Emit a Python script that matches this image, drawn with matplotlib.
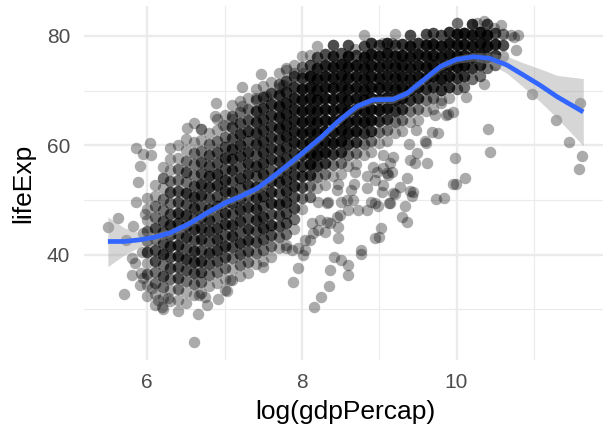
import numpy as np
import matplotlib
matplotlib.use("Agg")
import matplotlib.pyplot as plt

plt.rcParams["font.family"] = ["Liberation Sans", "DejaVu Sans"]

# dense part of the cloud, one column per 0.1 of log(gdpPercap):
# cloud_y0 is the lowest lifeExp of the column, each digit is how many
# points sit in the next 2-year cell going up
cloud_x = [6.0, 6.1, 6.2, 6.3, 6.4, 6.5, 6.6, 6.7, 6.8, 6.9,
           7.0, 7.1, 7.2, 7.3, 7.4, 7.5, 7.6, 7.7, 7.8, 7.9,
           8.0, 8.1, 8.2, 8.3, 8.4, 8.5, 8.6, 8.7, 8.8, 8.9,
           9.0, 9.1, 9.2, 9.3, 9.4, 9.5, 9.6, 9.7, 9.8, 9.9,
           10.0, 10.1, 10.2, 10.3, 10.4, 10.5, 10.6]
cloud_y0 = [32.4, 30.8, 30.1, 31.5, 29.7, 31.2, 32.6, 32.9, 34.3, 34.8,
            33.6, 35.4, 36.1, 36.7, 38.3, 38.8, 39.5, 41.2, 41.7, 44.6,
            48.3, 50.6, 52.2, 52.7, 54.4, 54.8, 56.3, 56.6, 58.2, 58.7,
            60.4, 60.8, 62.3, 62.6, 64.2, 64.7, 66.3, 66.6, 68.2, 68.7,
            70.3, 70.6, 72.2, 72.7, 74.2, 74.6, 76.3]
cloud_n = ["1121322111", "112233232211", "11232433322121",
           "112334343232111", "112334434433221", "1123434443423211",
           "123443434432221", "1234344434433211", "123434443443321",
           "1234443434433211", "11234344344343211", "11234434434443321",
           "12343444343444321", "12344343444434321", "12334444343444421",
           "12344343444444431", "12343444344444431", "12334344444555421",
           "12334444445555431", "1233444455555431", "123445566666421",
           "12466666666631", "12466666666531", "1246666666653",
           "1246666666653", "124666666663", "124666666663",
           "12466666663", "124666666631", "12466666664",
           "1246666663", "1246666664", "1246666631", "124666664",
           "124666663", "12466664", "12466663", "12466663",
           "1466663", "1466664", "2466662", "246666", "246664",
           "24666", "24663", "2453", "132"]

# single points outside the dense cloud
single_x = [5.49, 5.62, 5.73, 5.81, 5.85, 5.88, 5.91, 5.85, 6.03, 5.95, 6.05,
            5.70, 5.80, 5.80, 5.84, 5.91, 5.92, 5.94, 6.06, 6.14, 6.19, 6.27,
            6.66, 6.77, 6.60, 6.91, 7.03, 6.75, 6.67, 7.07, 5.93, 5.95, 5.97,
            6.40, 6.51, 6.60, 6.70, 6.89, 6.88, 7.23, 7.47, 7.79, 7.41, 7.54,
            7.22, 7.09, 6.98, 7.70, 7.76, 7.90, 8.02,
            7.50, 7.89, 7.95, 7.95, 7.87, 7.80, 8.02, 8.04, 8.04, 8.10,
            8.13, 8.15, 8.21, 8.23, 8.30, 8.33, 8.36, 8.47, 8.47, 8.45,
            8.32, 8.58, 8.60, 8.36, 8.41, 8.51, 8.60, 8.60, 8.35, 8.25, 8.16,
            8.77, 8.77, 8.95, 9.00, 9.02,
            8.10, 8.21, 8.34, 8.47, 8.45, 8.68, 8.64, 8.51, 8.73, 8.84, 8.84,
            8.90, 8.84, 8.92, 8.66, 8.49, 8.69, 8.95, 8.95, 8.97, 9.03, 9.05,
            9.10, 9.16, 9.13, 9.20, 9.27, 9.36, 9.40, 9.43, 9.33, 9.29, 9.36,
            9.73, 9.84, 9.96, 9.99, 10.11, 8.99, 9.14, 9.18, 9.44, 9.05, 9.12,
            9.05, 9.18, 9.14, 9.38, 9.49, 9.40, 9.46, 9.62, 9.48, 9.59, 9.61,
            9.68, 9.76, 9.80, 9.86, 9.96, 9.98, 9.72, 9.89, 10.12, 10.35,
            10.41, 10.43,
            9.05, 9.16, 10.26, 10.35, 10.58, 10.48, 10.74, 10.80, 10.77, 10.71,
            8.69, 10.98, 11.60, 11.29, 11.46, 11.63, 11.59]
single_y = [45.1, 46.7, 42.7, 45.2, 49.6, 53.2, 56.2, 59.5, 60.4, 58.4, 58.2,
            32.7, 39.3, 36.3, 38.5, 34.4, 36.6, 35.7, 33.8, 31.7, 30.5, 32.0,
            29.1, 30.8, 24.0, 31.9, 33.3, 32.3, 32.6, 35.4, 40.5, 44.0, 47.5,
            60.1, 63.1, 64.1, 62.9, 67.7, 65.4, 70.6, 73.0, 74.2, 68.7, 69.0,
            67.2, 64.9, 63.7, 70.4, 71.0, 73.3, 73.3,
            37.8, 35.0, 37.5, 41.2, 40.8, 41.2, 39.9, 42.7, 40.8, 42.7,
            45.7, 43.9, 44.5, 46.3, 44.2, 46.0, 45.7, 45.1, 43.0, 46.9,
            49.4, 50.0, 48.2, 37.2, 39.6, 39.1, 38.1, 36.3, 34.3, 32.3, 30.4,
            40.8, 40.1, 43.0, 43.3, 44.8,
            50.6, 49.7, 49.7, 53.0, 51.8, 53.0, 51.8, 49.7, 48.2, 48.2, 52.1,
            49.7, 54.3, 56.1, 50.0, 47.2, 55.2, 49.5, 53.6, 55.2, 51.5, 52.7,
            54.9, 55.2, 49.5, 51.1, 52.3, 54.0, 51.7, 50.7, 48.9, 46.8, 46.0,
            50.1, 50.3, 52.9, 52.9, 54.1, 48.8, 49.4, 51.2, 51.5, 55.8, 54.6,
            58.2, 57.9, 56.7, 60.2, 58.5, 57.3, 56.7, 56.7, 62.8, 60.7, 60.4,
            62.5, 62.2, 67.7, 65.5, 66.1, 57.6, 65.5, 65.7, 68.9, 71.3,
            63.0, 58.8,
            78.7, 78.7, 82.3, 82.8, 82.0, 81.4, 79.9, 80.2, 77.4, 80.2,
            77.7, 69.3, 67.7, 64.6, 60.6, 58.0, 55.7]

# smoother and its confidence band
fit_x = [5.49, 5.70, 5.90, 6.10, 6.30, 6.55, 6.77, 7.00, 7.20, 7.42, 7.63,
         7.80, 8.00, 8.26, 8.47, 8.71, 8.92, 9.18, 9.36, 9.57, 9.79, 10.00,
         10.22, 10.43, 10.65, 10.86, 11.08, 11.30, 11.64]
fit_y = [42.4, 42.4, 42.7, 43.2, 44.0, 45.7, 47.6, 49.4, 50.6, 52.1, 54.3,
         56.2, 58.5, 61.6, 64.4, 67.1, 68.3, 68.4, 69.5, 71.9, 74.4, 75.7,
         76.2, 75.9, 74.7, 72.9, 71.0, 68.9, 66.1]
fit_lo = [37.8, 39.9, 41.4, 42.4, 43.3, 45.0, 46.9, 48.7, 49.9, 51.4, 53.6,
          55.5, 57.8, 60.9, 63.7, 66.4, 67.6, 67.7, 68.8, 71.2, 73.7, 75.0,
          75.4, 74.9, 73.2, 70.7, 68.0, 65.0, 59.9]
fit_hi = [46.9, 44.9, 44.0, 44.0, 44.7, 46.4, 48.3, 50.1, 51.3, 52.8, 55.0,
          56.9, 59.2, 62.3, 65.1, 67.8, 69.0, 69.1, 70.2, 72.6, 75.1, 76.4,
          77.0, 76.9, 76.3, 75.1, 74.0, 72.8, 72.2]

xs = list(single_x)
ys = list(single_y)
for cx, y0, counts in zip(cloud_x, cloud_y0, cloud_n):
    for i, c in enumerate(counts):
        xs += [cx] * int(c)
        ys += [y0 + 2 * i] * int(c)

fig = plt.figure(figsize=(6.03, 4.28), dpi=100)
ax = fig.add_axes([84 / 603, 1 - 360.4 / 428, 523 / 603, 354.7 / 428])

ax.scatter(xs, ys, s=68, color="black", alpha=0.33, linewidths=0, zorder=2)
ax.fill_between(fit_x, fit_lo, fit_hi, color="#999999", alpha=0.4,
                linewidth=0, zorder=3)
ax.plot(fit_x, fit_y, color="#3366FF", lw=3.4, solid_capstyle="butt", zorder=4)

ax.set_xlim(5.181, 11.947)
ax.set_ylim(20.64, 85.54)
ax.set_xticks([6, 8, 10])
ax.set_yticks([40, 60, 80])
ax.set_xticks([7, 9, 11], minor=True)
ax.set_yticks([30, 50, 70], minor=True)
ax.grid(which="major", color="#EBEBEB", lw=1.7, zorder=0)
ax.grid(which="minor", color="#EBEBEB", lw=0.85, zorder=0)
ax.set_axisbelow(True)
for s in ax.spines.values():
    s.set_visible(False)
ax.tick_params(which="both", length=0)
ax.tick_params(axis="x", labelsize=15, labelcolor="#4D4D4D", pad=9)
ax.tick_params(axis="y", labelsize=15, labelcolor="#4D4D4D", pad=10)

ax.set_xlabel("log(gdpPercap)", fontsize=19, labelpad=6)
ax.set_ylabel("lifeExp", fontsize=19, labelpad=8)

fig.savefig("out.png", dpi=100)
